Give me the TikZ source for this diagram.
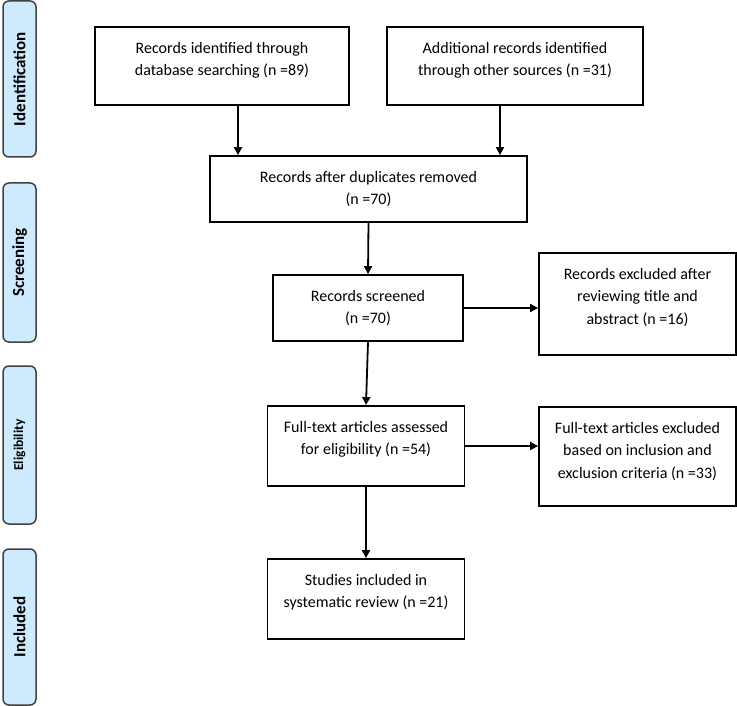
\documentclass[tikz,border=0pt]{standalone}
\usepackage{fontspec}
\setmainfont{Carlito}
\usepackage{tikz}
\usetikzlibrary{arrows.meta,
  calc,
  positioning
}
\definecolor{stagefill}{rgb}{0.808,0.918,0.992}
\definecolor{stageline}{rgb}{0.25,0.25,0.25}
\tikzset{
  stage/.style={draw=stageline,fill=stagefill,line width=1.5pt,rounded corners=6pt,
    rotate=90,minimum height=33pt,inner sep=0,font=\fontsize{17}{20}\selectfont\bfseries},
  flowbox/.style={draw,line width=1.8pt,inner sep=0},
  boxtext/.style={anchor=north,yshift=-16pt,inner sep=0,align=center,
    font=\fontsize{16}{22.5}\selectfont},
  flow/.style={line width=1.8pt,-{Triangle[length=8pt,width=8pt]}}
}

\begin{document}
\begin{tikzpicture}[x=1pt,y=-1pt]
  \useasboundingbox (0,0) rectangle (737,706);

  \node[stage,minimum width=156pt] (ident) at (19.5,79) {Identification};
  \node[stage,minimum width=159pt] (screen) at (19.5,262.5) {Screening};
  \node[stage,minimum width=158pt,font=\fontsize{13.5}{16}\selectfont\bfseries]
    (elig) at (19.5,445) {Eligibility};
  \node[stage,minimum width=156pt] (incl) at (19.5,627) {Included};

  \node[flowbox,minimum width=254pt,minimum height=78pt,
    label={[boxtext,name=recdbtxt]north:{Records identified through\\database searching (n =89)}}]
    (recdb) at (222,66) {};
  \node[flowbox,minimum width=256pt,minimum height=78pt,
    label={[boxtext,name=recothertxt]north:{Additional records identified\\through other sources (n =31)}}]
    (recother) at (515,66) {};
  \node[flowbox,minimum width=317pt,minimum height=66pt,
    label={[boxtext,name=deduptxt]north:{Records after duplicates removed\\(n =70)}}]
    (dedup) at (368.5,189) {};
  \node[flowbox,minimum width=190pt,minimum height=66pt,
    label={[boxtext,name=screenedtxt]north:{Records screened\\(n =70)}}]
    (screened) at (368,308) {};
  \node[flowbox,minimum width=197pt,minimum height=102pt,
    label={[boxtext,name=exclonetxt]north:{Records excluded after\\reviewing title and\\abstract (n =16)}}]
    (exclone) at (637.5,304) {};
  \node[flowbox,minimum width=197pt,minimum height=80pt,
    label={[boxtext,name=fulltxt]north:{Full-text articles assessed\\for eligibility (n =54)}}]
    (fulltext) at (366,446) {};
  \node[flowbox,minimum width=197pt,minimum height=99pt,
    label={[boxtext,name=excltwotxt]north:{Full-text articles excluded\\based on inclusion and\\exclusion criteria (n =33)}}]
    (excltwo) at (637.5,456.5) {};
  \node[flowbox,minimum width=197pt,minimum height=80pt,
    label={[boxtext,name=studiestxt]north:{Studies included in\\systematic review (n =21)}}]
    (studies) at (366,599) {};

  \draw[flow] ([xshift=16pt]recdb.south) -- ([xshift=16pt]recdb.south |- dedup.north);
  \draw[flow] ([xshift=-15pt]recother.south) -- ([xshift=-15pt]recother.south |- dedup.north);
  \draw[flow] (dedup.south) -- (screened.north);
  \draw[flow] (screened.east) -- (screened.east -| exclone.west);
  \draw[flow] (screened.south) -- (fulltext.north);
  \draw[flow] (fulltext.east) -- (fulltext.east -| excltwo.west);
  \draw[flow] (fulltext.south) -- (studies.north);
\end{tikzpicture}
\end{document}
